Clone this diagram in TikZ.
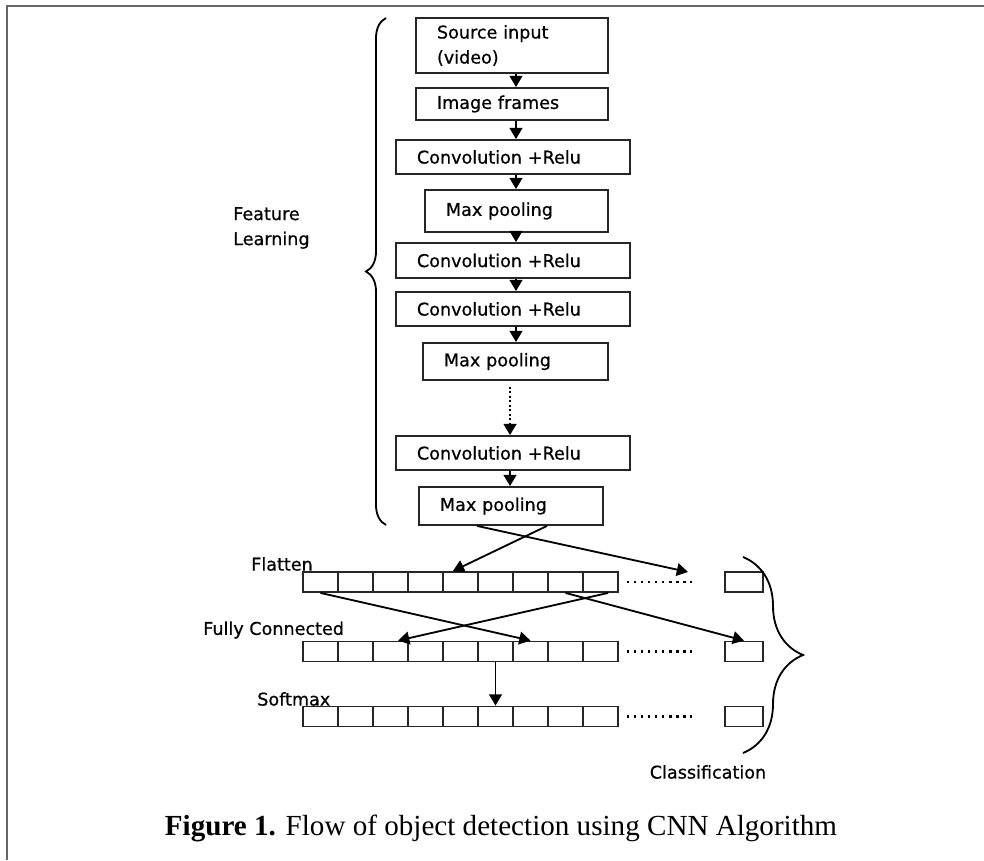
\documentclass[tikz,border=0pt]{standalone}
\usepackage{fontspec}
\setmainfont{DejaVu Sans}[FakeBold=0.6]
\newfontfamily\capfont{Liberation Serif}
\usetikzlibrary{positioning,calc,arrows.meta,decorations.pathreplacing}

\tikzset{
    layer/.style={draw=black!85, line width=1.3pt, text width=#1, inner xsep=0.525cm, align=left, font=\fontsize{12.5}{17.8}\selectfont},
    cell/.style={draw=black!85, line width=1.3pt, minimum width=0.875cm, minimum height=0.5cm, inner sep=0pt},
    arr/.style={line width=1.3pt, -{Triangle[length=2.8mm,width=3.2mm]}},
    lbl/.style={font=\fontsize{12.5}{17.8}\selectfont, inner sep=0pt},
    dotrow/.style={line width=1.7pt, dash pattern=on 1.7pt off 3.3pt},
    brc/.style={line width=1.3pt, decorate, decoration={brace, amplitude=#1}},
}

\begin{document}
\begin{tikzpicture}[x=0.025cm,y=-0.025cm]
    \useasboundingbox (0,0) rectangle (984,860);
    \draw[line width=1.4pt, black!60] (984,6) -- (7,6) -- (7,860);

    \node[layer=3.75cm, minimum height=1.375cm] (src) at (512,45.5) {Source input\\(video)};
    \node[layer=3.75cm, minimum height=0.8cm] (img) at (512,104) {Image frames};
    \node[layer=4.8cm, minimum height=0.85cm] (cv1) at (513,157) {Convolution +Relu};
    \node[layer=3.525cm, minimum height=1.05cm] (mp1) at (516.5,211) {Max pooling};
    \node[layer=4.8cm, minimum height=0.875cm] (cv2) at (513,260.5) {Convolution +Relu};
    \node[layer=4.8cm, minimum height=0.85cm] (cv3) at (513,309) {Convolution +Relu};
    \node[layer=3.575cm, minimum height=0.925cm] (mp2) at (515.5,361.5) {Max pooling};
    \node[layer=4.8cm, minimum height=0.85cm] (cv4) at (513,453) {Convolution +Relu};
    \node[layer=3.55cm, minimum height=0.95cm] (mp3) at (511,506) {Max pooling};

    \coordinate (ax) at (516,0);
    \coordinate (bx) at (510,0);
    \foreach \a/\b in {src/img, img/cv1, cv1/mp1, mp1/cv2, cv2/cv3, cv3/mp2} {
        \draw[arr] (\a.south -| ax) -- (\b.north -| ax);
    }
    \draw[arr, dash pattern=on 1.6pt off 1.6pt, line width=1.6pt, shorten <=4pt] (mp2.south -| bx) -- (cv4.north -| bx);
    \draw[arr] (cv4.south -| bx) -- (mp3.north -| bx);

    \draw[brc=0.5cm] (386,525) -- (386,18);
    \node[lbl, anchor=west, align=left] (feat) at (233,228) {Feature\\Learning};

    \foreach \i in {1,...,9} {
        \node[cell] (f\i) at (285.5+35*\i,582) {};
        \node[cell] (c\i) at (285.5+35*\i,651.5) {};
        \node[cell] (s\i) at (285.5+35*\i,716.5) {};
    }
    \node[cell, minimum width=0.95cm] (fend) at (744,582) {};
    \node[cell, minimum width=0.95cm] (cend) at (744,651.5) {};
    \node[cell, minimum width=0.95cm] (send) at (744,716.5) {};
    \foreach \row in {f,c,s} {
        \draw[dotrow] ([xshift=0.2cm]\row9.east) -- ([xshift=-0.8cm]\row end.west);
    }

    \node[lbl, anchor=west] (flat) at (251,564) {Flatten};
    \node[lbl, anchor=west] (fc) at (203,630) {Fully Connected};
    \node[lbl, anchor=west] (smax) at (257,699) {Softmax};

    \coordinate (fout) at (688,572);
    \draw[arr] ([xshift=0.9cm]mp3.south) -- ([xshift=-0.19cm]f5.north);
    \draw[arr] ([xshift=-0.85cm]mp3.south) -- (fout);
    \draw[arr] (f1.south) -- (c7.north);
    \draw[arr] ([xshift=0.19cm]f9.south) -- ([xshift=0.19cm]c3.north);
    \draw[arr] (f8.south) -- (cend.north);
    \draw[arr] (c6.south) -- (s6.north);

    \draw[brc=1.5cm] (743,557) -- (743,753);
    \node[lbl] (cls) at (708,772) {Classification};

    \node[font=\capfont\fontsize{20.7}{24}\selectfont] (cap) at (501,828) {\textbf{Figure 1.} Flow of object detection using CNN Algorithm};
\end{tikzpicture}
\end{document}
